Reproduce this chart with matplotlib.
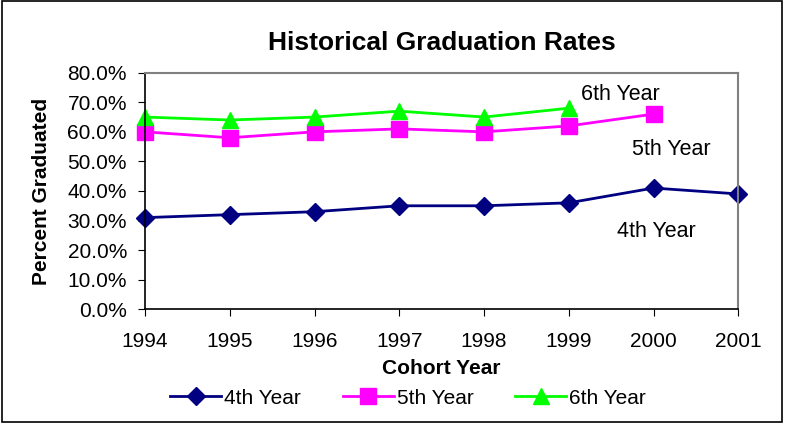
import numpy as np
import matplotlib.pyplot as plt
from matplotlib.patches import Rectangle
from matplotlib.ticker import PercentFormatter

plt.rcParams['font.family'] = ['Liberation Sans', 'DejaVu Sans']

years = [1994, 1995, 1996, 1997, 1998, 1999, 2000, 2001]
fourth = [31, 32, 33, 35, 35, 36, 41, 39]
fifth = [60, 58, 60, 61, 60, 62, 66]
sixth = [65, 64, 65, 67, 65, 68]

fig = plt.figure(figsize=(7.85, 4.23), dpi=100)
ax = fig.add_axes([145/785, 1 - 309.3/423, (738.3-145)/785, (309.3-72.7)/423])

ax.plot(years, fourth, color="#000080", marker="D", markersize=9, lw=2, label="4th Year", clip_on=False)
ax.plot(years[:len(fifth)], fifth, color="#ff00ff", marker="s", markersize=11, lw=2, label="5th Year", clip_on=False)
ax.plot(years[:len(sixth)], sixth, color="#00ff00", marker="^", markersize=11, lw=2, label="6th Year", clip_on=False)

ax.set_xlim(1994, 2001)
ax.set_ylim(0, 80)
ax.set_xticks(years)
ax.set_yticks(np.arange(0, 81, 10))
ax.yaxis.set_major_formatter(PercentFormatter(decimals=1))
ax.tick_params(labelsize=15, length=5, color="black", direction="out")
ax.tick_params(axis="x", pad=11)
ax.tick_params(axis="y", pad=8)
for s in ["top", "right"]:
    ax.spines[s].set_color("#808080")
    ax.spines[s].set_linewidth(1.5)
for s in ["left", "bottom"]:
    ax.spines[s].set_color("black")
    ax.spines[s].set_linewidth(1.2)

ax.set_title("Historical Graduation Rates", fontsize=19, fontweight="bold", pad=16)
ax.set_xlabel("Cohort Year", fontsize=15, fontweight="bold", labelpad=6)
ax.set_ylabel("Percent Graduated", fontsize=15, fontweight="bold", labelpad=12)

ax.text(1999.15, 72.7, "6th Year", fontsize=15.5, va="center")
ax.text(1999.75, 53.9, "5th Year", fontsize=15.5, va="center")
ax.text(1999.57, 26.3, "4th Year", fontsize=15.5, va="center")

fig.legend(loc="center", bbox_to_anchor=(0.52, 1 - 398/423), ncol=3, frameon=False,
           fontsize=15, handlelength=2.45, columnspacing=2.0, handletextpad=0.15)

fig.patches.append(Rectangle((0.002, 0.002), 0.994, 0.996, transform=fig.transFigure,
                             fill=False, edgecolor="black", lw=1.2))

fig.savefig("out.png", dpi=100)
